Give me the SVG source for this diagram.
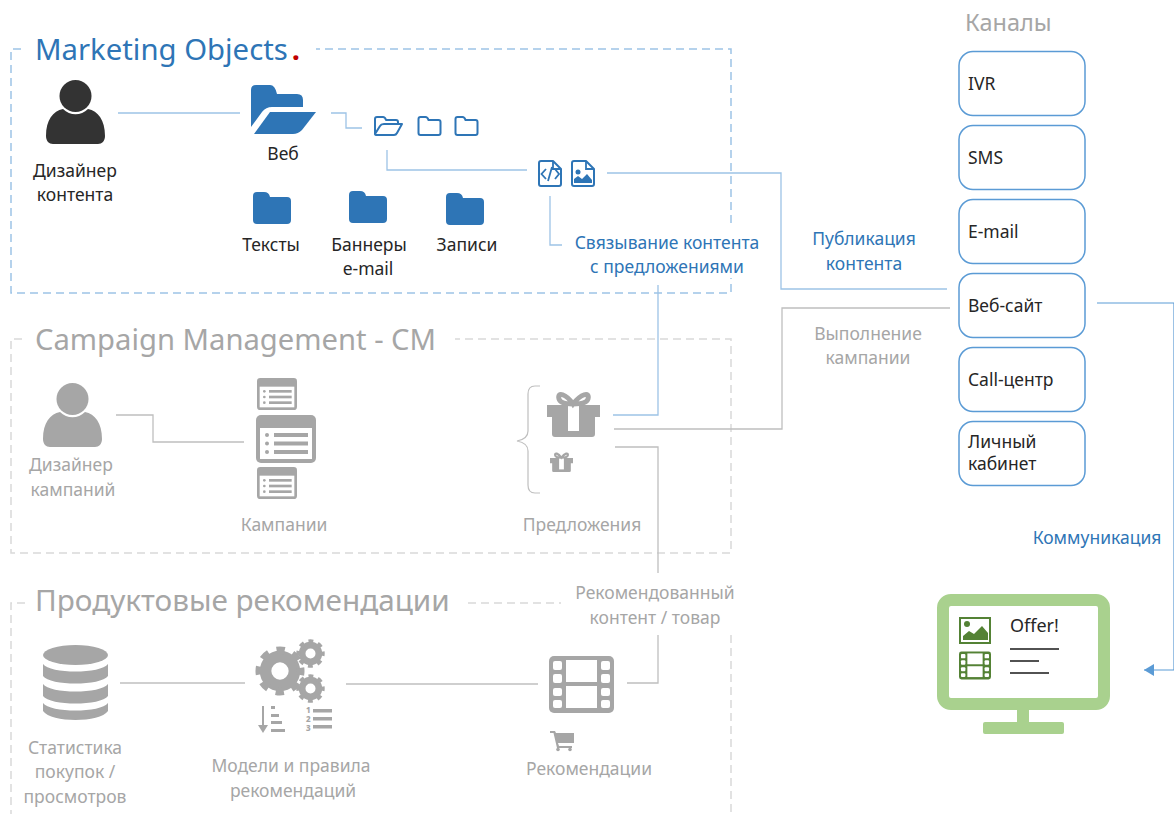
<svg xmlns="http://www.w3.org/2000/svg" width="1174" height="814" viewBox="0 0 1174 814">
<style>
text{font-family:"Noto Sans","Open Sans","Liberation Sans",sans-serif;font-size:17.5px;fill:#262626}
.c{text-anchor:middle}
.g{fill:#a6a6a6}
.b{fill:#2e75b6}
.t{font-size:29.3px}
.dash,.lb,.lg{fill:none}
.dash{stroke-width:1.5;stroke-dasharray:8 5}
.db{stroke:#9dc3e6}
.dg{stroke:#d9d9d9}
.lb{stroke:#9dc3e6;stroke-width:1.3}
.lg{stroke:#bfbfbf;stroke-width:1.3}
.ch{fill:#fff;stroke:#5b9bd5;stroke-width:1.5}
.ol{fill:#fff;stroke:#2e75b6;stroke-width:2;stroke-linejoin:round}
</style>
<defs>
<marker id="arr" markerWidth="11" markerHeight="12" refX="10" refY="6" orient="auto" markerUnits="userSpaceOnUse"><path d="M0,0V12L10,6Z" fill="#5b9bd5"/></marker>
<symbol id="person" viewBox="0 0 59 64"><circle cx="29.5" cy="16" r="16" fill="currentColor"/><path fill="currentColor" d="M17,29C24,36 35,36 42,29C52,31 59,40 59,56C59,61 56,64 52,64H7C3,64 0,61 0,56C0,40 7,31 17,29Z"/></symbol>
<symbol id="folder" viewBox="0 0 38 32"><path fill="#2e75b6" d="M0,4Q0,0 4,0H11Q16,0 17,5H34Q38,5 38,9V28Q38,32 34,32H4Q0,32 0,28Z"/></symbol>
<symbol id="folderO" viewBox="0 0 24 20"><path fill="none" stroke="#2e75b6" stroke-width="2" d="M1,3Q1,1 3,1H8Q10,1 11,4H21Q23,4 23,6V17Q23,19 21,19H3Q1,19 1,17Z"/></symbol>
<symbol id="list" viewBox="0 0 60 48"><rect width="60" height="48" rx="5" fill="#a6a6a6"/><rect x="4" y="13" width="52" height="31" fill="#fff"/><g fill="#a6a6a6"><circle cx="11" cy="20" r="2"/><circle cx="11" cy="28.500" r="2"/><circle cx="11" cy="37" r="2"/><rect x="18" y="18" width="34" height="4"/><rect x="18" y="26.500" width="34" height="4"/><rect x="18" y="35" width="34" height="4"/></g></symbol>
<symbol id="gift" viewBox="0 0 53 46"><path fill="#a6a6a6" d="M0,14H53V26H48V43Q48,46 45,46H8Q5,46 5,43V26H0Z"/><rect x="21" y="14" width="11" height="26" fill="#fff"/><path fill="none" stroke="#a6a6a6" stroke-width="5" d="M26,13C19,3 10,0 12,8C13,12 20,13 26,13C33,13 40,12 41,8C43,0 34,3 26,13Z"/></symbol>
<symbol id="film" viewBox="0 0 65 57"><rect width="65" height="57" rx="5" fill="currentColor"/><g fill="#fff"><rect x="4" y="5" width="9" height="9" rx="2"/><rect x="4" y="18" width="9" height="9" rx="2"/><rect x="4" y="32" width="9" height="8" rx="2"/><rect x="4" y="44" width="9" height="8" rx="2"/><rect x="52" y="5" width="9" height="9" rx="2"/><rect x="52" y="18" width="9" height="9" rx="2"/><rect x="52" y="32" width="9" height="8" rx="2"/><rect x="52" y="44" width="9" height="8" rx="2"/><rect x="17" y="4" width="31" height="22"/><rect x="17" y="30" width="31" height="22"/></g></symbol>
<symbol id="gear" viewBox="-26 -26 52 52"><circle r="15" fill="none" stroke="#a6a6a6" stroke-width="12"/><circle r="21.500" fill="none" stroke="#a6a6a6" stroke-width="8" stroke-dasharray="8.440 8.444" stroke-dashoffset="4.200"/></symbol>
</defs>

<g id="frames">
<path class="dash db" d="M21,49H11V293H731V278M731,223V49H316"/>
<path class="dash dg" d="M22,339H11V553H731V339H455"/>
<path class="dash dg" d="M25,603H11V814M468,603H561M731,635V814"/>
</g>

<g id="connectors">
<path class="lb" d="M118,113H240"/>
<path class="lb" d="M331,113H346V128H362"/>
<path class="lb" d="M387,150V170H527"/>
<path class="lb" d="M607,173H781V289H947"/>
<path class="lb" d="M550,196V245H562"/>
<path class="lb" d="M658,285V415H613"/>
<path class="lg" d="M614,429H782V308H950"/>
<path class="lg" d="M615,447H658V573"/>
<path class="lg" d="M658,635V683H627"/>
<path class="lg" d="M116,415H153V442H244"/>
<path class="lg" d="M120,683H245"/>
<path class="lg" d="M346,684H538"/>
<path d="M1097,303H1174V670H1144" fill="none" stroke="#5b9bd5" stroke-width="1.2" marker-end="url(#arr)"/>
</g>

<g id="title-mo"><text class="t b" x="35" y="60">Marketing Objects<tspan dx="4" font-weight="700" style="fill:#c00000">.</tspan></text></g>
<g id="title-cm"><text class="t g" x="35" y="350" style="font-size:29.2px">Campaign Management - CM</text></g>
<g id="title-pr"><text class="t g" x="35" y="611" style="font-size:29.7px">Продуктовые рекомендации</text></g>

<g id="designer-content"><use href="#person" x="46" y="80" width="59" height="64" color="#333333"/><text class="c" x="75" y="177">Дизайнер</text><text class="c" x="75" y="201">контента</text></g>

<g id="web"><path fill="#2e75b6" d="M251,90Q251,85 256,85H270Q275,85 277,94H297Q303,94 303,100V107H272Q266,107 262,112L251,127Z"/><path fill="#2e75b6" d="M270,112H316L302,130Q298,134 293,134H254Z"/><text class="c" x="283" y="160">Веб</text></g>

<g id="web-sub"><path class="ol" style="fill:none" d="M375,134V119Q375,117 377,117H383Q385,117 386,120H396Q398,120 398,122V124M375,134L380,126Q381,124 384,124H402L397,133Q396,135 394,135H377Q375,135 375,134Z"/><use href="#folderO" x="417" y="116" width="25" height="20"/><use href="#folderO" x="454" y="116" width="25" height="20"/></g>

<g id="files"><path class="ol" d="M539,163Q539,161 541,161H553L561,169V184Q561,186 559,186H541Q539,186 539,184Z"/><path fill="none" stroke="#2e75b6" stroke-width="1.800" d="M553,161V169H561M546,169L541.500,174L546,179M555,169L559,174L555,179M552,167L548,181"/><path class="ol" d="M572,163Q572,161 574,161H586L594,169V184Q594,186 592,186H574Q572,186 572,184Z"/><path fill="none" stroke="#2e75b6" stroke-width="1.800" d="M586,161V169H594"/><circle cx="578" cy="172" r="2.500" fill="#2e75b6"/><path fill="#2e75b6" d="M574,183V179L578,176L582,179L587,174L592,180V183Z"/></g>

<g id="folder-texts"><use href="#folder" x="253" y="192" width="38" height="32"/><text class="c" x="271" y="250.500">Тексты</text></g>
<g id="folder-banners"><use href="#folder" x="349" y="191" width="38" height="32"/><text class="c" x="369" y="250.500">Баннеры</text><text class="c" x="368" y="275">e-mail</text></g>
<g id="folder-records"><use href="#folder" x="446" y="193" width="38" height="32"/><text class="c" x="467" y="250.500">Записи</text></g>

<g id="label-link"><text class="c b" x="667" y="248.500">Связывание контента</text><text class="c b" x="667" y="272.500">с предложениями</text></g>
<g id="label-pub"><text class="c b" x="864" y="244.500">Публикация</text><text class="c b" x="864" y="269.500">контента</text></g>
<g id="label-exec"><text class="c g" x="868" y="339.500">Выполнение</text><text class="c g" x="868" y="363.500">кампании</text></g>

<g id="designer-campaign"><use href="#person" x="43" y="383" width="59" height="64" color="#a6a6a6"/><text class="c g" x="71" y="470.500">Дизайнер</text><text class="c g" x="73" y="495.500">кампаний</text></g>

<g id="campaigns"><use href="#list" x="257" y="378" width="40" height="32"/><use href="#list" x="256" y="415" width="60" height="48"/><use href="#list" x="257" y="467" width="40" height="32"/><text class="c g" x="284" y="530.500">Кампании</text></g>

<g id="offers"><path fill="none" stroke="#bfbfbf" stroke-width="1.200" d="M540,386H535Q528,386 528,394V431Q528,439 517,441Q528,443 528,451V485Q528,493 535,493H540"/><use href="#gift" x="547" y="391" width="53" height="46"/><use href="#gift" x="550" y="452" width="23" height="20"/><text class="c g" x="582" y="530.500">Предложения</text></g>

<g id="label-rec"><text class="c g" x="655" y="598.500">Рекомендованный</text><text class="c g" x="655" y="623.500">контент / товар</text></g>

<g id="stats"><g fill="#a6a6a6"><ellipse cx="75.500" cy="655" rx="32.500" ry="10"/><path d="M43,664C50,674 101,674 108,664V676C101,686 50,686 43,676Z"/><path d="M43,684C50,694 101,694 108,684V696C101,706 50,706 43,696Z"/><path d="M43,703C50,713 101,713 108,703V711C100,723 51,723 43,711Z"/></g><text class="c g" x="75" y="753.500">Статистика</text><text class="c g" x="75" y="777.500">покупок /</text><text class="c g" x="75" y="802.500">просмотров</text></g>

<g id="models"><use href="#gear" x="255" y="646" width="50" height="50"/><use href="#gear" x="296" y="639" width="29" height="29"/><use href="#gear" x="296" y="674" width="29" height="29"/>
<path fill="none" stroke="#a6a6a6" stroke-width="2" d="M263,706V730"/><path fill="#a6a6a6" d="M258,725H268L263,733Z"/><g fill="#a6a6a6"><rect x="271" y="706" width="4" height="3"/><rect x="271" y="714" width="8" height="3"/><rect x="271" y="721" width="11" height="3"/><rect x="271" y="729" width="14" height="3"/><rect x="313" y="709" width="19" height="3.500"/><rect x="313" y="717" width="19" height="3.500"/><rect x="313" y="725" width="19" height="3.500"/></g>
<text x="306" y="713" style="font-size:8px;font-weight:800;fill:#a6a6a6">1</text><text x="306" y="722" style="font-size:8px;font-weight:800;fill:#a6a6a6">2</text><text x="306" y="731" style="font-size:8px;font-weight:800;fill:#a6a6a6">3</text>
<text class="c g" x="291" y="771.500">Модели и правила</text><text class="c g" x="293" y="796.500">рекомендаций</text></g>

<g id="recs"><use href="#film" x="549" y="656" width="65" height="57" color="#a6a6a6"/><path fill="#a6a6a6" d="M550,731H555L556,733H574V743H558L559,746H572V748H557L553.500,733H550Z"/><circle cx="558" cy="749.500" r="1.800" fill="#a6a6a6"/><circle cx="570" cy="749.500" r="1.800" fill="#a6a6a6"/><text class="c g" x="589" y="774.500">Рекомендации</text></g>

<g id="channels-title"><text class="g" x="965" y="31" style="font-size:23.5px">Каналы</text></g>
<g id="ch-ivr"><rect class="ch" x="959" y="51.500" width="126" height="64" rx="14"/><text x="968" y="89.500">IVR</text></g>
<g id="ch-sms"><rect class="ch" x="959" y="125.500" width="126" height="64" rx="14"/><text x="968" y="163.500">SMS</text></g>
<g id="ch-email"><rect class="ch" x="959" y="199.500" width="126" height="64" rx="14"/><text x="968" y="237.500">E-mail</text></g>
<g id="ch-web"><rect class="ch" x="959" y="273.500" width="126" height="64" rx="14"/><text x="968" y="311.500">Веб-сайт</text></g>
<g id="ch-call"><rect class="ch" x="959" y="347.500" width="126" height="64" rx="14"/><text x="968" y="385.500">Call-центр</text></g>
<g id="ch-lk"><rect class="ch" x="959" y="421.500" width="126" height="64" rx="14"/><text x="968" y="447.500">Личный</text><text x="968" y="469.500">кабинет</text></g>

<g id="label-comm"><text class="c b" x="1097" y="543.500">Коммуникация</text></g>

<g id="monitor"><rect x="1017" y="708" width="12" height="16" fill="#a9d18e"/><rect x="983" y="722" width="81" height="12" rx="2" fill="#a9d18e"/><rect x="943" y="600" width="161" height="104" rx="8" fill="#fff" stroke="#a9d18e" stroke-width="12"/>
<rect x="960" y="618" width="30" height="25" fill="none" stroke="#548235" stroke-width="2"/><circle cx="967" cy="624" r="3" fill="#548235"/><path fill="#548235" d="M963,640V636L969,631L974,634L982,626L988,633V640Z"/>
<use href="#film" x="959" y="651" width="32" height="29" color="#548235"/>
<text x="1010" y="632" style="font-size:18px">Offer!</text><path fill="none" stroke="#1a1a1a" stroke-width="1.500" d="M1010,649H1059M1010,661H1039M1010,673H1049"/></g>
</svg>
